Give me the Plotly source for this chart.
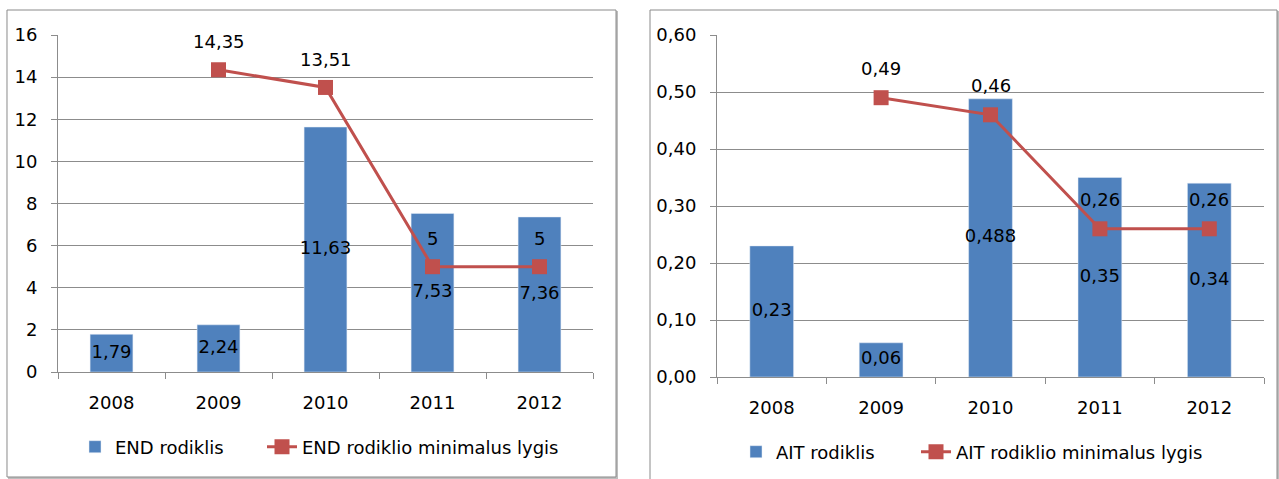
import plotly.graph_objects as go

years = [2008, 2009, 2010, 2011, 2012]
end_values = [1.79, 2.24, 11.63, 7.53, 7.36]
end_min_years = [2009, 2010, 2011, 2012]
end_min_values = [14.35, 13.51, 5, 5]
ait_values = [0.23, 0.06, 0.488, 0.35, 0.34]
ait_min_years = [2009, 2010, 2011, 2012]
ait_min_values = [0.49, 0.46, 0.26, 0.26]

BAR = "#4F81BD"
LINE = "#C0504D"
GRID = "#8C8C8C"
FONT = "DejaVu Sans"
FS = 18
W, H = 1279, 479


def lt(v):
    return str(v).replace(".", ",")


fig = go.Figure()

# Left chart
fig.add_trace(go.Bar(x=years, y=end_values, name="END rodiklis", marker_color=BAR,
                     width=0.4, xaxis="x", yaxis="y", legend="legend", legendwidth=142,
                     hoverinfo="skip"))
fig.add_trace(go.Scatter(x=end_min_years, y=end_min_values, name="END rodiklio minimalus lygis",
                         mode="lines+markers", line=dict(color=LINE, width=3),
                         marker=dict(symbol="square", size=15, color=LINE),
                         xaxis="x", yaxis="y", legend="legend", legendwidth=280,
                         hoverinfo="skip"))
fig.add_trace(go.Scatter(x=years, y=[v / 2 for v in end_values], text=[lt(v) for v in end_values],
                         mode="text", textfont=dict(family=FONT, size=FS, color="#000"),
                         showlegend=False, xaxis="x", yaxis="y", hoverinfo="skip"))

# Right chart
fig.add_trace(go.Bar(x=years, y=ait_values, name="AIT rodiklis", marker_color=BAR,
                     width=0.4, xaxis="x2", yaxis="y2", legend="legend2", legendwidth=135,
                     hoverinfo="skip"))
fig.add_trace(go.Scatter(x=ait_min_years, y=ait_min_values, name="AIT rodiklio minimalus lygis",
                         mode="lines+markers", line=dict(color=LINE, width=3),
                         marker=dict(symbol="square", size=15, color=LINE),
                         xaxis="x2", yaxis="y2", legend="legend2", legendwidth=280,
                         hoverinfo="skip"))
fig.add_trace(go.Scatter(x=years, y=[v / 2 for v in ait_values], text=[lt(v) for v in ait_values],
                         mode="text", textfont=dict(family=FONT, size=FS, color="#000"),
                         showlegend=False, xaxis="x2", yaxis="y2", hoverinfo="skip"))

annotations = []
for x, y in zip(end_min_years, end_min_values):
    annotations.append(dict(x=x, y=y, xref="x", yref="y", text=lt(y), showarrow=False,
                            yshift=28, font=dict(family=FONT, size=FS, color="#000")))
for x, y in zip(ait_min_years, ait_min_values):
    annotations.append(dict(x=x, y=y, xref="x2", yref="y2", text=lt(y), showarrow=False,
                            yshift=29, font=dict(family=FONT, size=FS, color="#000")))

boundaries = [y - 0.5 for y in years] + [years[-1] + 0.5]

xcommon = dict(type="linear", range=[boundaries[0], boundaries[-1]], showgrid=False,
               showline=True, linecolor=GRID, linewidth=1, zeroline=False,
               tickmode="array", tickvals=years, ticktext=[str(y) for y in years],
               ticks="", tickfont=dict(family=FONT, size=FS, color="#000"),
               ticklabelstandoff=14, tickangle=0, fixedrange=True,
               minor=dict(tickmode="array", tickvals=boundaries, ticks="outside",
                          ticklen=6, tickcolor=GRID, showgrid=False))
ycommon = dict(showgrid=True, gridcolor=GRID, gridwidth=1, showline=True, linecolor=GRID,
               linewidth=1, ticks="outside", ticklen=6, tickcolor=GRID, zeroline=False,
               tickfont=dict(family=FONT, size=FS, color="#000"), ticklabelstandoff=10,
               fixedrange=True)


def px(v):
    return v / W


def py(v):
    return 1 - v / H


fig.update_layout(
    width=W, height=H,
    margin=dict(l=0, r=0, t=0, b=0, pad=0, autoexpand=False),
    paper_bgcolor="white", plot_bgcolor="white",
    separators=", ",
    font=dict(family=FONT, size=FS, color="#000"),
    xaxis=dict(xcommon, domain=[px(58), px(593)], anchor="y"),
    yaxis=dict(ycommon, domain=[py(372), py(35)], range=[0, 16], dtick=2, anchor="x"),
    xaxis2=dict(xcommon, domain=[px(717), px(1264)], anchor="y2"),
    yaxis2=dict(ycommon, domain=[py(377), py(35)], range=[0, 0.6], dtick=0.1,
                tickformat=".2f", anchor="x2"),
    legend=dict(orientation="h", x=px(75), y=py(447), xanchor="left", yanchor="middle",
                bgcolor="rgba(0,0,0,0)", font=dict(family=FONT, size=FS, color="#000")),
    legend2=dict(orientation="h", x=px(736), y=py(452), xanchor="left", yanchor="middle",
                 bgcolor="rgba(0,0,0,0)", font=dict(family=FONT, size=FS, color="#000")),
    annotations=annotations,
    showlegend=True,
)


def path(points, close=False):
    s = "M " + " L ".join(f"{px(a):.5f},{py(b):.5f}" for a, b in points)
    return s + (" Z" if close else "")


shapes = [
    # left frame with shadow
    dict(type="path", xref="paper", yref="paper", path=path([(617, 11), (617, 478), (8, 478)]),
         line=dict(color="#BDBDBD", width=2), layer="below"),
    dict(type="path", xref="paper", yref="paper",
         path=path([(7, 10), (616, 10), (616, 477), (7, 477)], close=True),
         line=dict(color="#8A8A8A", width=1), fillcolor="white", layer="below"),
    # right frame (bottom edge cut off)
    dict(type="path", xref="paper", yref="paper", path=path([(1278, 11), (1278, 479)]),
         line=dict(color="#BDBDBD", width=2), layer="below"),
    dict(type="path", xref="paper", yref="paper",
         path=path([(650, 479), (650, 10), (1277, 10), (1277, 479)]),
         line=dict(color="#8A8A8A", width=1), layer="below"),
]
fig.update_layout(shapes=shapes)

fig.write_html("out.html", config={"displayModeBar": False},
               post_script="document.body.style.margin='0';")
